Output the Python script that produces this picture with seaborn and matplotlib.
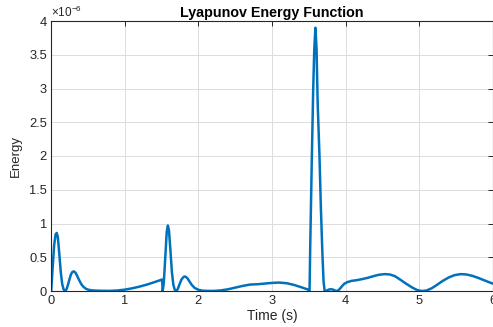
import matplotlib
matplotlib.use("Agg")
import matplotlib.pyplot as plt
import matplotlib.ticker as mticker
import seaborn as sns
import pandas as pd

# Time (s)
time_s = [
    0.00, 0.02, 0.04, 0.06, 0.075, 0.09, 0.11, 0.13, 0.15, 0.17, 0.19,
    0.21, 0.23, 0.25, 0.27, 0.29, 0.31, 0.33, 0.35, 0.38, 0.41, 0.44,
    0.47, 0.50, 0.55, 0.60, 0.70, 0.80, 0.90, 1.00, 1.10, 1.20, 1.30,
    1.40, 1.48, 1.505, 1.51, 1.515, 1.53, 1.55, 1.57, 1.585, 1.60, 1.62,
    1.64, 1.66, 1.68, 1.70, 1.72, 1.74, 1.77, 1.80, 1.82, 1.85, 1.88,
    1.91, 1.95, 2.00, 2.05, 2.10, 2.20, 2.30, 2.40, 2.50, 2.60, 2.70,
    2.80, 2.90, 3.00, 3.10, 3.20, 3.30, 3.40, 3.48, 3.50, 3.51, 3.52,
    3.54, 3.56, 3.575, 3.59, 3.605, 3.62, 3.645, 3.665, 3.685, 3.70,
    3.715, 3.74, 3.77, 3.80, 3.83, 3.86, 3.89, 3.92, 3.95, 3.98, 4.02,
    4.08, 4.15, 4.22, 4.30, 4.38, 4.45, 4.53, 4.60, 4.67, 4.74, 4.82,
    4.90, 4.96, 5.00, 5.05, 5.10, 5.17, 5.24, 5.32, 5.40, 5.48, 5.56,
    5.64, 5.72, 5.80, 5.88, 5.95, 6.00,
]

# Energy (x 1e-6)
energy_e6 = [
    0.00, 0.35, 0.68, 0.84, 0.86, 0.80, 0.55, 0.28, 0.10, 0.02, 0.00,
    0.03, 0.10, 0.18, 0.25, 0.285, 0.29, 0.27, 0.23, 0.16, 0.10, 0.06,
    0.035, 0.02, 0.01, 0.006, 0.003, 0.002, 0.008, 0.02, 0.04, 0.065, 0.095,
    0.13, 0.16, 0.17, 0.10, 0.00, 0.12, 0.50, 0.88, 0.97, 0.90, 0.60,
    0.28, 0.09, 0.015, 0.00, 0.03, 0.09, 0.17, 0.21, 0.215, 0.19, 0.14,
    0.09, 0.045, 0.018, 0.006, 0.002, 0.001, 0.008, 0.025, 0.05, 0.075, 0.095,
    0.10, 0.11, 0.12, 0.125, 0.115, 0.09, 0.055, 0.025, 0.01, 0.00, 0.70,
    1.90, 3.00, 3.60, 3.90, 3.60, 2.80, 2.00, 1.20, 0.55, 0.15,
    0.00, 0.005, 0.02, 0.028, 0.02, 0.005, 0.00, 0.03, 0.07, 0.105, 0.13,
    0.15, 0.16, 0.175, 0.195, 0.22, 0.24, 0.25, 0.245, 0.22, 0.17, 0.11,
    0.055, 0.02, 0.006, 0.00, 0.008, 0.04, 0.09, 0.15, 0.20, 0.235, 0.25,
    0.245, 0.225, 0.195, 0.16, 0.13, 0.11,
]

x_ticks = [0, 1, 2, 3, 4, 5, 6]
y_ticks_e6 = [0, 0.5, 1, 1.5, 2, 2.5, 3, 3.5, 4]

sns.set_theme(style="white")
plt.rcParams['font.family'] = ['Liberation Sans', 'DejaVu Sans']
plt.rcParams['mathtext.fontset'] = 'custom'
plt.rcParams['mathtext.rm'] = 'Liberation Sans'

df = pd.DataFrame({"t": time_s, "E": [v * 1e-6 for v in energy_e6]})

fig = plt.figure(figsize=(4.93, 3.27), dpi=100)
ax = fig.add_axes([51.2 / 493, 36 / 327, (492.8 - 51.2) / 493, 270 / 327])

sns.lineplot(data=df, x="t", y="E", ax=ax, color="#0072BD", linewidth=1.8,
             sort=False, estimator=None)

ax.set_xlim(0, 6)
ax.set_ylim(0, 4e-6)
ax.set_xticks(x_ticks)
ax.set_yticks([v * 1e-6 for v in y_ticks_e6])
ax.yaxis.set_major_formatter(mticker.FuncFormatter(lambda v, p: f"{v * 1e6:g}"))
ax.xaxis.set_major_formatter(mticker.FuncFormatter(lambda v, p: f"{v:g}"))

ax.grid(True, color="#dcdcdc", linewidth=0.7)
ax.set_axisbelow(True)
for s in ax.spines.values():
    s.set_color("#262626")
    s.set_linewidth(0.8)
ax.tick_params(axis="both", which="both", direction="in", length=3.5, width=0.7,
               colors="#262626", labelsize=9.3, top=True, right=True,
               labeltop=False, labelright=False, pad=3)

ax.set_xlabel("Time (s)", fontsize=10, color="#262626", labelpad=1)
ax.set_ylabel("Energy", fontsize=9.5, color="#262626", labelpad=5)
ax.set_title("Lyapunov Energy Function", fontsize=10.3, fontweight="bold",
             color="black", pad=3)
ax.text(0.0, 1.003, r"$\times10^{-6}$", transform=ax.transAxes, fontsize=8.5,
        color="#262626", ha="left", va="bottom")

fig.savefig("out.png", dpi=100)
